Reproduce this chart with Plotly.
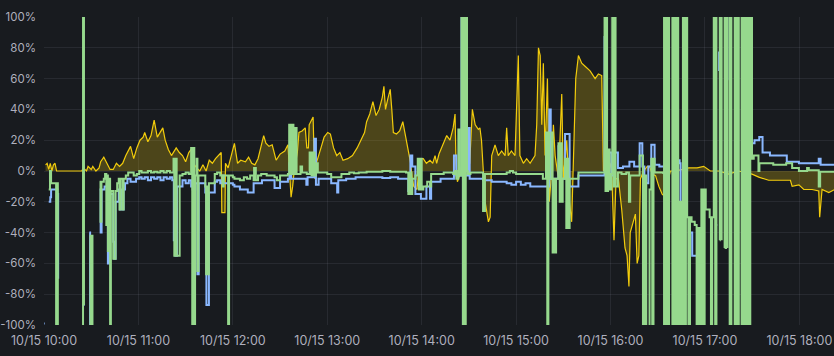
import pandas as pd
import plotly.graph_objects as go

# ---------------- data (minutes after 10/15 10:00, value in %) ----------------
yellow_t = [1, 2, 3, 4, 5, 6, 7, 8, 9, 24, 25, 27, 28, 30, 31, 33, 35, 36, 38, 40, 42, 44, 46, 48,
            50, 52, 55, 57, 59, 61, 63, 64, 66, 68, 70, 72, 74, 75.5, 77, 79, 81, 84, 86, 88, 90, 92,
            93.5, 95, 97, 99, 101, 103, 105, 107, 109, 111, 112.6, 113, 115, 115.3, 117, 119, 121,
            123, 125, 128, 130, 132, 134, 136, 139.6, 141, 143, 145, 147.5, 150, 153, 155, 157, 158,
            159, 161, 162, 164, 166, 167, 168, 168.5, 171, 172, 173, 176, 178, 180.3, 182, 184, 186,
            188, 190, 193, 196, 199, 201.5, 203.7, 205, 207, 209, 211, 213, 215, 216, 217, 218.5, 220,
            221, 222, 224, 226, 228, 230, 233, 234, 235, 237, 239, 241, 243, 245.3, 247, 248.5, 249.5,
            251, 253.8, 255.9, 258, 260, 261.2, 261.8, 262.7, 264.5, 266.5, 268.6, 270.5, 272.2, 274,
            276, 277, 278, 280.3, 282.4, 283.5, 284.5, 286.6, 288.7, 290.8, 293, 294, 295, 297, 299.3,
            301.4, 302.4, 304.6, 306.7, 308.9, 312, 313.1, 314.2, 315.3, 316.3, 317.3, 318.4, 319.9,
            321.1, 322.6, 323.7, 324.8, 326.9, 329, 330, 332.2, 333.9, 335.3, 336.3, 337.9, 339.6,
            341.7, 343.8, 347, 350.2, 352.3, 354.4, 355.5, 357.6, 359.7, 360.7, 362.2, 363.5, 365,
            367.1, 369.2, 370.5, 371.7, 372.5, 373.8, 375.8, 376.9, 378, 379, 381.1, 383.3, 384.8,
            386.5, 388.6, 390.7, 392.8, 394.9, 395.3, 396.9, 398, 401.3, 405.5, 409.7, 415, 419.2,
            423.4, 428.7, 435, 441.4, 449.9, 454.2, 460.5, 466.9, 474.3, 475.4, 479.7, 482.8, 488.1,
            492.3, 492.9, 494.4, 498.7, 502.4]
yellow_v = [4, 5, 1, 5, 0, 4, 5, 0, 0, 0, 2, 0, 3, 1, 3, 0, 2, 6, 9, 5, 1, 1, 5, 3,
            5, 10, 16, 8, 15, 20, 22, 25, 19, 23, 33, 22, 25, 28, 20, 14, 10, 15, 12, 10, 6, 12,
            14, 5, 2, 0, 4, 0, 7, 5, 8, 10, 12, -27, -27, 5, 2, 10, 18,
            5, 7, 6, 9, 5, 4, 8, 23, 18, 16, 17, 7, 11, 13, 17, -17, -10,
            0, 12, 25, 26, 28, 15, 15, 30, 35, -5, 5, 15, 22, 25, 24, 15, 10,
            12, 7, 8, 10, 15, 20, 25, 32, 37, 45, 36, 40, 48, 55, 40, 47, 53,
            40, 25, 24, 26, 32, 22, 5, -5, -10, -12, 8, 8, 5, 7, 5, 10, 5,
            11, 18, 23, 20, 28, 37, 5, -7, -2, 10, 0, 5, 40, 30,
            27, 28, 20, -20, -33, -30, 10, 17, 10, 13, 10, 28, 10, 13, 10,
            75, 10, 5, 8, 5, 10, 30, 80, 75, 30, 70, 10, 60,
            -20, 0, 30, 10, -5, 50, -5, 20, -20, -33, 10, 60, 75,
            70, 68, 65, 60, 63, 62, 0, 5, 5, 0, -45, -5, -5,
            -25, -50, -55, -75, -40, -35, -28, -60, -55, -5, 0, 3, 3,
            -2, -3, -10, -15, -17, -1, -5, 0, 0, 1, 2, 2, 3,
            0, 0, -2, 0, -2, -4, -6, -6, -6, -10, -9, -12, -12,
            -13, -30, -12, -14, -12]

green_t = [3.0, 3.8, 4.5, 7.5, 7.7, 8.3, 8.8, 9.5,
           24.3, 24.8, 25.4, 26.0,
           28.9, 29.5, 30.2, 30.8, 31.5,
           35.3, 35.9, 36.5, 38.0, 38.8, 39.6, 40.1, 40.6, 41.2, 42.0, 42.5, 44.0, 45.5, 46.5, 47.5,
           48.0, 48.6, 50.0, 50.6, 52.0, 53.5, 55, 57, 59, 60.5, 62, 64, 66, 68, 70, 72, 74, 76, 78,
           80, 81.5, 82.3, 82.8, 83.5, 84.3, 86.2, 88, 90, 92, 93.5, 94.2, 94.8, 95.5, 96.0, 97.0,
           97.5, 98.2, 100, 102.5, 103, 103.6, 104.2, 104.8, 106, 108.5, 110, 112, 113.5, 114.2,
           116.5, 117.0, 117.6, 118, 120,
           121, 124.5, 127, 129, 131, 133.2, 133.5, 134.6, 136, 138, 140, 141.5, 144, 146.5, 148,
           150, 152, 155, 155.8, 156.5, 157.5, 158.5, 159.7, 160.5, 162, 163, 164, 167, 168.8, 170,
           170.8, 172, 172.8, 174, 176, 178, 180, 182.5, 185, 187, 189, 192, 194, 197, 200, 205,
           210, 215, 220, 225, 230, 231.5, 232.3, 233.5, 234, 236, 237.5, 238.2, 239.2, 240, 241,
           243.5, 245.3, 246, 250, 254, 258, 260, 261.2, 262, 263.3, 264.0, 265.3, 266.2, 267.0,
           267.5, 268.0, 268.8, 269.3, 271, 273, 275, 277, 278.6, 279.0, 279.8, 280.2,
           283, 286, 289, 292, 294, 296, 298, 300, 303, 306, 309, 312, 314.5, 317, 319.0, 319.8,
           320.5, 321.1, 322.6, 323.2, 324.0, 324.8, 325.4, 326.9, 327.7, 328.4, 329.0, 329.6,
           331.1, 331.9, 332.6, 333.3, 334, 336, 337.5, 339.6, 342, 345, 348, 351,
           354.4, 356.2, 356.8, 357.3, 357.8, 358.4, 359.4, 360.5, 361.1, 362.0, 362.6, 363.2,
           364.7, 367, 370, 371.7, 372.5, 375, 378.5, 380.2, 380.6, 381.7, 382.7, 384.8, 385.9,
           386.5, 387.3, 388, 390, 393.5, 393.6,
           393.99, 394.0, 395.1, 396.2, 397.2, 399.3, 400.0, 400.9, 401.8, 402.6, 403.0, 403.7,
           404.4, 404.9, 406.0, 406.9, 407.9, 408.7, 409.5, 410.5, 411.5, 413.5, 414.7, 415.6,
           416.6, 417.7, 418.9, 419.8, 420.5, 423.0, 423.8, 424.6, 425.6, 426.5, 427.3, 427.8,
           428.0,
           429.4, 429.41, 430.6, 430.61,
           432.5, 432.51, 433.4, 433.41, 434.3, 434.31,
           435.7, 435.71, 436.8, 438.9, 439.8, 440.7, 441.5, 443.3, 444.2, 445.3, 446.3, 447.3,
           447.8, 448.8, 449.9, 451, 453.5, 454,
           454.6, 458, 461.3, 463.4, 470, 471.6, 475.4, 479.7, 484.9, 486, 491, 492.3, 493.2, 497,
           502.4]
green_v = [-12, 0, -8, -8, -130, -8, -130, None,
           -130, 130, -87, None,
           -42, -130, -42, -130, None,
           -7, -33, -7, -5, -2, -35, -3, -52, -5, -130, -13, -57, -13, -8, -5,
           -25, -5, -25, -5, -3, -1, -1, -3, -2, 0, -1, -1, 0, -1, -0.5, -1, 0, -1, 0,
           -1, -1, 8, -55, 8, -55, -3, -2, -1, -2, 15, -130, 15, -130, -3, 8,
           -65, -3, -3, -10, -67, -10, -67, -8, -8, -2, -1, -3, -10, -3,
           -3, -130, -3, -3, -4,
           -5, -6, -4, -5, -3, -6, 2, -6, -3, -2, -2, -3, -3, -4, -6,
           -3, -3, -2, 30, -2, 30, -2, 28, -2, -2, 3, -1, -2, 12, -3,
           12, -3, 5, -1, -1, -1, -2, -4, -4, -4, -2, -2, -1, -1.5, -1, -0.5,
           -0.5, 0, -0.5, -0.5, -1, -15, -1, -15, -5, -3, 8, -12, 8, -12, -10,
           -7, -10, -2, -2, -1, -1, -2, 0, -5, 27, -3, 130, -130, 130,
           -130, 130, 0, -2, -1, -1, -1, -1, -1, -26, -26, -2,
           -2, -2, -2, -2, -1, 0, -1, -2, -2, -2, -2, -2, -2, -5, 25, -130,
           25, -5, 25, -53, -5, -53, -5, 18, -20, 18, -20, -5,
           8, -37, 8, -37, -5, -5, -5, -1, -1, -1, -1, -1,
           -1, 130, -13, 130, -13, 14, -12, -2, 130, -10, 130, -10,
           -1, -2, -1, -20, -3, -3, 10, 10, -130, -3, -130, -12, 8,
           -130, 8, -1, -1, -2, None,
           -130, 130, -130, 130, -130, 130, -130, 130, -130, 130, -20, -130,
           -20, -130, 130, -130, 130, -30, -130, -30, -33, -35, -130, -37,
           -130, -12, -130, -12, -25, -30, -130, -30, 130, -130, 130, 130,
           None,
           -45, 130, -45, None,
           -50, 130, -50, 130, -50, None,
           -130, 130, -130, 130, -130, 130, -130, 130, -130, 130, -130, 130,
           -130, 130, 8, 10, 10, 0,
           5, 5, 5, 4, 4, 5, 2, 0, 2, 0.5, 0.5, -10, -0.5, -0.5,
           -0.5]

blue_t = [0.2, 0.6, 0.7, 3.0, 4.0, 4.5, 8.5, 9.0, 9.6,
          24.5, 25.8, 26.0, 28.8, 29.3, 30.0,
          35.3, 36.0, 36.6, 38.5, 40.2, 40.6, 41.4, 44.0, 44.6, 45.5, 46.8, 47.5, 48.2, 49.2, 50.0,
          50.6, 51.5, 53, 55, 57, 58.5, 60.5, 62, 64, 66, 68, 70, 72, 74, 76, 78, 80, 81.5, 82.5,
          83.5, 84.5, 86.2, 88, 90, 92, 93.5, 94.5, 96, 97.5, 98.3, 100, 102.5, 103.2, 104.3, 104.8,
          107, 108.5, 110, 112, 113.5, 114.2, 116, 118, 120,
          121, 124.5, 127, 129.5, 131.5, 133.2, 136, 138.5, 141, 144, 146.5, 148.5, 150, 153, 155,
          156, 157, 160, 163, 165, 166.7, 167.5, 170, 171.8, 172.8, 174.5, 176, 178, 180.5, 182.5,
          185, 186.3, 187, 189, 192, 195, 198, 200, 205, 210, 215, 220, 225, 230, 231.5, 232.3,
          232.8, 234, 236, 238, 239.5, 241.5, 243, 245.3, 246, 250.5, 252, 258, 260.5, 262, 263.5,
          265.3, 266.2, 267.0, 268, 269.8, 270.5, 274, 277, 279, 283, 284.5, 290, 294, 297, 300,
          303, 306, 309, 312, 315, 318, 321.1, 322, 326.9, 327.8, 329, 331.1, 333, 334, 336, 339.6,
          343, 347, 351,
          354.4, 356.2, 357.3, 358.4, 360.5, 362.6, 364.7, 367.9, 372, 375, 378.5, 380.2, 381.5,
          382.5, 384, 385.9, 388, 391, 394.4, 394.41,
          400.8, 400.81, 402.4, 403.9, 404.5, 406, 406.01,
          410.3, 411.9, 415, 417, 419.2, 419.21,
          426.8, 427.8, 427.81,
          429.0, 429.01, 429.8, 429.81,
          433.1, 433.11, 434.2, 434.21,
          447.5, 450.5, 451.5, 454.5, 456.6, 460.9,
          461.3, 471.6, 472, 479, 479.7, 490, 492.3, 493.5, 502.4]
blue_v = [-99, -99, None, -20, -17, -12, -15, -70, None,
          -87, -87, None, -40, -130, None,
          -12, -40, -12, -10, -15, -60, -15, -46, -57, -20, -20, -12, -25, -12, -25,
          -12, -8, -5, -7, -7, -5, -4, -5, -4, -6, -4, -5, -4, -6, -4, -5, -4, -6, -45,
          -55, -10, -10, -6, -8, -6, -10, -12, -8, -67, -8, -8, -14, -87, -87, -14,
          -14, -7, -6, -8, -3, -8, -8, -8, -9,
          -10, -12, -12, -14, -14, -8, -8, -6, -6, -6, -11, -11, -7, -7, -5,
          5, -5, -5, -5, -5, -9, -4, -4, 21, -9, -5, -5, -5, -5, -8,
          -8, -14, -6, -6, -5, -5, -4, -4, -4, -4, -4.5, -4, -5, -5, -13, -5,
          10, 3, -15, -15, -18, -18, -10, -18, -7, -7, -5, -5, 10, -3, -3,
          130, -130, -3, -3, 28, -5, -5, -5, -6, -6, -7, -7, -8, -9, -7,
          -9, -8, -10, -10, -10, -10, 40, -5, 16, -5, -5, 24, 24, -10, -10, -3,
          -3, -3, -3,
          -3, 87, 12, 12, -3, 12, 2, 3, 6, 3, 18, 3, -60,
          -8, 3, 17, 4, 3, 3, None,
          7, 130, 7, 5, -25, -25, None,
          -40, -55, -55, -70, -130, None,
          -35, -35, None,
          65, 77, 65, None,
          59, 130, 59, None,
          18, 18, 20, 22, 12, 12,
          10, 10, 6, 6, 5, 5, 8, 4, 4]

tick_minutes = [0, 60, 120, 180, 240, 300, 360, 420, 480]
tick_labels = ["10/15 10:00", "10/15 11:00", "10/15 12:00", "10/15 13:00", "10/15 14:00",
               "10/15 15:00", "10/15 16:00", "10/15 17:00", "10/15 18:00"]
y_ticks = [100, 80, 60, 40, 20, 0, -20, -40, -60, -80, -100]
y_labels = ["100%", "80%", "60%", "40%", "20%", "0%", "-20%", "-40%", "-60%", "-80%", "-100%"]

assert len(yellow_t) == len(yellow_v), (len(yellow_t), len(yellow_v))
assert len(green_t) == len(green_v), (len(green_t), len(green_v))
assert len(blue_t) == len(blue_v), (len(blue_t), len(blue_v))

# ---------------- figure ----------------
base = pd.Timestamp("2023-10-15 10:00")


def to_time(mins):
    return [base + pd.Timedelta(minutes=m) for m in mins]


BG = "#181b1f"
GRID = "rgba(204,204,220,0.09)"
TXT = "rgba(204,204,220,0.85)"

fig = go.Figure()
fig.add_trace(go.Scatter(
    x=to_time(yellow_t), y=yellow_v, mode="lines",
    line=dict(color="#F2CC0C", width=1.2),
    fill="tozeroy", fillcolor="rgba(242,204,12,0.24)",
    connectgaps=False, hoverinfo="skip", showlegend=False))
fig.add_trace(go.Scatter(
    x=to_time(blue_t), y=blue_v, mode="lines",
    line=dict(color="#8AB8FF", width=2, shape="hv"),
    connectgaps=False, hoverinfo="skip", showlegend=False))
fig.add_trace(go.Scatter(
    x=to_time(green_t), y=green_v, mode="lines",
    line=dict(color="#96D98D", width=2, shape="hv"),
    connectgaps=False, hoverinfo="skip", showlegend=False))

fig.update_layout(
    width=834, height=356,
    margin=dict(l=44, r=0, t=17, b=31, autoexpand=False),
    paper_bgcolor=BG, plot_bgcolor=BG,
    font=dict(family="Inter, Roboto, sans-serif", size=12, color=TXT),
    showlegend=False,
)
fig.update_xaxes(
    range=[base, base + pd.Timedelta(minutes=502)],
    tickvals=to_time(tick_minutes), ticktext=tick_labels,
    showgrid=True, gridcolor=GRID, gridwidth=1,
    zeroline=False, showline=False, ticks="", automargin=False,
    ticklabelstandoff=6,
    tickfont=dict(size=12.5, color=TXT),
)
fig.update_yaxes(
    range=[-100, 100],
    tickvals=y_ticks, ticktext=y_labels,
    showgrid=True, gridcolor=GRID, gridwidth=1,
    zeroline=False, showline=False, ticks="", automargin=False,
    ticklabelstandoff=7,
    tickfont=dict(size=11.5, color=TXT),
)

page_js = ("document.body.style.margin='0';document.body.style.padding='0';"
           "document.body.style.background='#181b1f';document.body.style.overflow='hidden';")
fig.write_html("out.html", post_script=page_js, config={"displayModeBar": False})
